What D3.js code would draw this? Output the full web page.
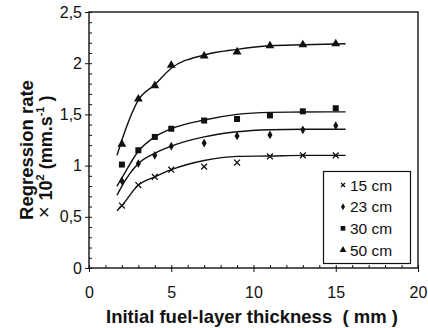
<!DOCTYPE html>
<html>
<head>
<meta charset="utf-8">
<script src="https://cdn.jsdelivr.net/npm/d3@7"></script>
<style>
  body { margin: 0; background: #fff; }
  text { font-family: "Liberation Sans", Arial, sans-serif; fill: #111; }
</style>
</head>
<body>
<div id="container"></div>
<script>
/* DATA */
const thickness = [2, 3, 4, 5, 7, 9, 11, 13, 15];
const rate15 = [0.61, 0.81, 0.89, 0.96, 0.99, 1.03, 1.09, 1.10, 1.10];
const rate23 = [0.85, 1.02, 1.10, 1.19, 1.22, 1.29, 1.30, 1.35, 1.39];
const rate30 = [1.01, 1.15, 1.28, 1.36, 1.44, 1.455, 1.49, 1.53, 1.56];
const rate50 = [1.21, 1.65, 1.78, 1.98, 2.07, 2.11, 2.17, 2.18, 2.19];

// trend curves
const fitX = [1.7, 2, 3, 4, 5, 7, 9, 11, 13, 15.6];
const fit15 = [0.56, 0.61, 0.81, 0.89, 0.96, 1.05, 1.09, 1.094, 1.10, 1.10];
const fit23 = [0.71, 0.80, 1.02, 1.12, 1.19, 1.28, 1.33, 1.35, 1.355, 1.355];
const fit30 = [0.80, 0.88, 1.14, 1.28, 1.36, 1.445, 1.50, 1.52, 1.523, 1.525];
const fit50 = [1.10, 1.25, 1.64, 1.79, 1.95, 2.08, 2.135, 2.17, 2.18, 2.19];

const seriesNames = ["15 cm", "23 cm", "30 cm", "50 cm"];
const xTicks = [0, 5, 10, 15, 20];
const yTicks = [0, 0.5, 1, 1.5, 2, 2.5];

/* LAYOUT */
const width = 428, height = 328,
  margin = { top: 12, bottom: 60, left: 89, right: 10 };

const svg = d3.select("#container")
  .append("svg")
  .attr("width", width)
  .attr("height", height)

const x = d3.scaleLinear().domain([0, 20]).range([margin.left, width - margin.right])
const y = d3.scaleLinear().domain([0, 2.5]).range([height - margin.bottom, margin.top])
const comma = d => String(d).replace(".", ",")

// legend box first so it sits under everything
svg.append("rect")
  .attr("x", 323.5).attr("y", 171.5)
  .attr("width", 87).attr("height", 92)
  .attr("fill", "#fff").attr("stroke", "#111").attr("stroke-width", 1.2)

// frame
svg.append("rect")
  .attr("x", x(0)).attr("y", y(2.5))
  .attr("width", x(20) - x(0)).attr("height", y(0) - y(2.5))
  .attr("fill", "none").attr("stroke", "#111").attr("stroke-width", 1.4)

// x axis: minor ticks inside, major outside with labels
svg.append("g")
  .attr("transform", `translate(0,${y(0)})`)
  .call(d3.axisTop(x).tickValues(d3.range(0, 21, 1)).tickSize(3).tickFormat(""))
  .call(g => g.select(".domain").remove())
svg.append("g")
  .attr("transform", `translate(0,${y(0)})`)
  .call(d3.axisBottom(x).tickValues(xTicks).tickSize(4).tickPadding(15))
  .call(g => g.select(".domain").remove())
  .selectAll("text").attr("font-size", 16).style("font-family", "Liberation Sans, Arial")

// y axis
svg.append("g")
  .attr("transform", `translate(${x(0)},0)`)
  .call(d3.axisRight(y).tickValues(d3.range(0, 2.51, 0.1)).tickSize(3).tickFormat(""))
  .call(g => g.select(".domain").remove())
svg.append("g")
  .attr("transform", `translate(${x(0)},0)`)
  .call(d3.axisLeft(y).tickValues(yTicks).tickSize(4).tickPadding(3).tickFormat(comma))
  .call(g => g.select(".domain").remove())
  .selectAll("text").attr("font-size", 16).style("font-family", "Liberation Sans, Arial")

svg.selectAll(".tick line").attr("stroke", "#111")

// axis titles
svg.append("text")
  .attr("x", 252).attr("y", 323)
  .attr("text-anchor", "middle")
  .attr("font-size", 18.5).attr("font-weight", "bold")
  .style("white-space", "pre")
  .text("Initial fuel-layer thickness  ( mm )")

svg.append("text")
  .attr("transform", "translate(33,150) rotate(-90)")
  .attr("text-anchor", "middle")
  .attr("font-size", 18.5).attr("font-weight", "bold")
  .text("Regression rate")

const t2 = svg.append("text")
  .attr("transform", "translate(52,148) rotate(-90)")
  .attr("text-anchor", "middle")
  .attr("font-size", 18).attr("font-weight", "bold")
t2.append("tspan").text("10")
t2.append("tspan").attr("dy", -8).attr("font-size", 11).text("2")
t2.append("tspan").attr("dy", 8).text(" (mm.s")
t2.append("tspan").attr("dy", -8).attr("font-size", 11).text("-1")
t2.append("tspan").attr("dy", 8).text(" )")

svg.append("text")
  .attr("x", 44).attr("y", 219)
  .attr("text-anchor", "middle")
  .attr("font-size", 20)
  .text("×")

/* SERIES */
const rates = [rate15, rate23, rate30, rate50]
const fits = [fit15, fit23, fit30, fit50]
const symbols = [d3.symbolTimes, d3.symbolDiamond, d3.symbolSquare, d3.symbolTriangle]
const sizes = [24, 22, 36, 34]
const legendSizes = [12, 14, 22, 20]

const line = d3.line()
  .x(d => x(d[0]))
  .y(d => y(d[1]))
  .curve(d3.curveMonotoneX)

fits.forEach(f => {
  svg.append("path")
    .datum(fitX.map((v, i) => [v, f[i]]))
    .attr("d", line)
    .attr("fill", "none")
    .attr("stroke", "#111")
    .attr("stroke-width", 1.4)
})

const styleSymbol = (sel, k) => {
  if (k === 0) sel.attr("fill", "none").attr("stroke", "#111").attr("stroke-width", 1.3)
  else sel.attr("fill", "#111")
}

rates.forEach((r, k) => {
  svg.selectAll(`path.s${k}`)
    .data(thickness.map((v, i) => [v, r[i]]))
    .join("path")
    .attr("class", `s${k}`)
    .attr("d", d3.symbol(symbols[k], sizes[k]))
    .attr("transform", d => `translate(${x(d[0])},${y(d[1])})`)
    .call(styleSymbol, k)
})

/* LEGEND */
const legendY = d3.scalePoint().domain(seriesNames).range([185, 250])
seriesNames.forEach((name, k) => {
  const g = svg.append("g").attr("transform", `translate(343,${legendY(name)})`)
  g.append("path")
    .attr("d", d3.symbol(symbols[k], legendSizes[k]))
    .call(styleSymbol, k)
  g.append("text")
    .attr("x", 7).attr("dy", "0.36em")
    .attr("font-size", 15.5)
    .text(name)
})
</script>
</body>
</html>
